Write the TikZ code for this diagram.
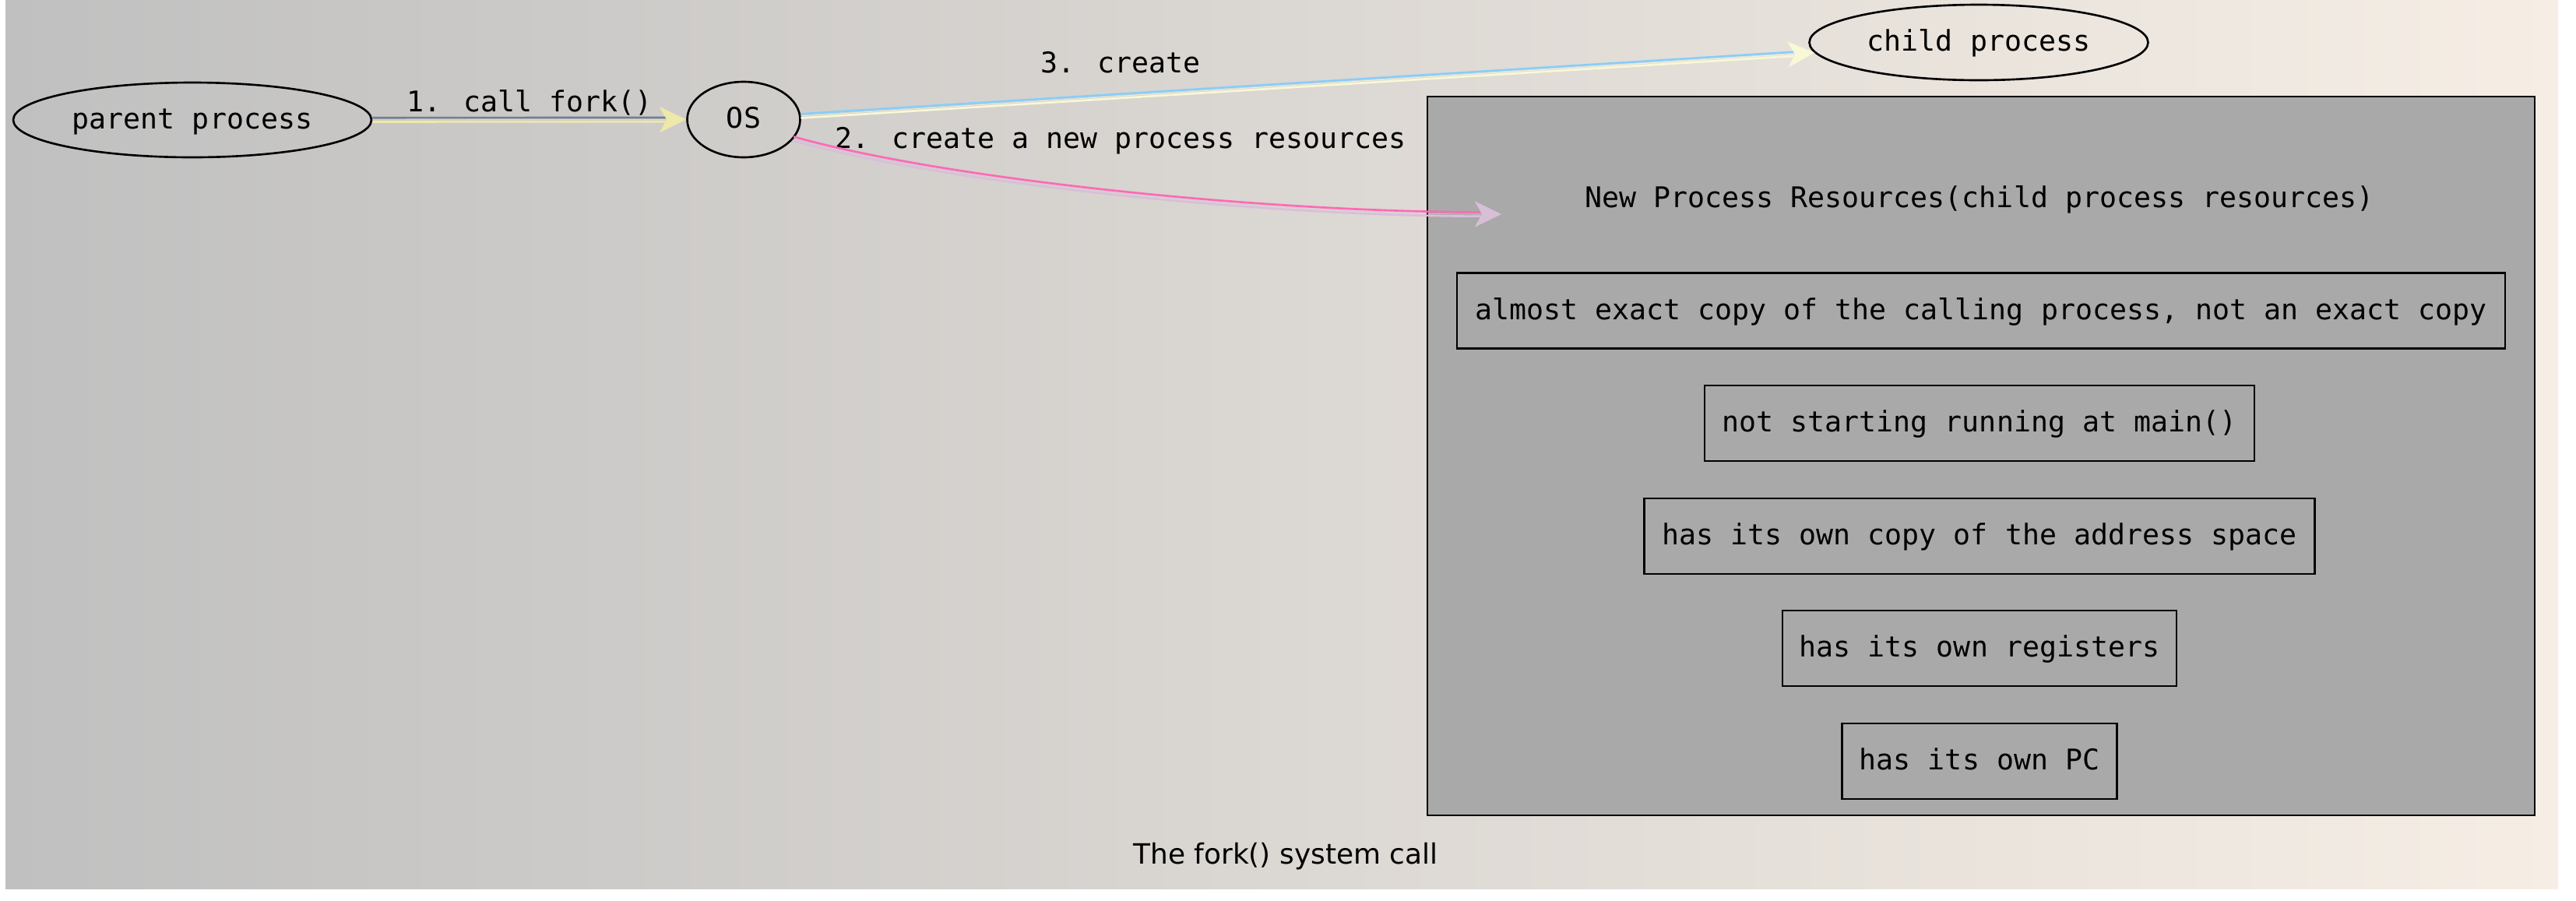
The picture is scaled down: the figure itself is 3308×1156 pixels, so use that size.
\documentclass[tikz,border=0pt]{standalone}
\usepackage{fontspec}
\newfontfamily\monof{DejaVu Sans Mono}
\newfontfamily\capf{DejaVu Sans}
\usetikzlibrary{shapes.geometric,arrows.meta}
\newcommand\pxu{0.3788pt}
\definecolor{bgleft}{RGB}{192,192,192}
\definecolor{bgright}{RGB}{246,238,229}
\definecolor{boxfill}{RGB}{169,169,169}
\definecolor{slategrayc}{RGB}{112,128,144}
\definecolor{palegold}{RGB}{238,232,170}
\definecolor{skyblue}{RGB}{135,206,250}
\definecolor{lightyel}{RGB}{248,248,215}
\definecolor{hotpinkc}{RGB}{255,105,180}
\definecolor{thistlec}{RGB}{216,191,216}
\begin{document}
\begin{tikzpicture}[x=\pxu,y=-\pxu,
  txt/.style={font=\monof\fontsize{13.85pt}{16pt}\selectfont, text height=10.4pt, text depth=2pt, inner sep=0pt},
  proc/.style={txt, ellipse, draw=black, line width=1pt},
  res/.style={txt, rectangle, draw=black, line width=1pt, fill=boxfill, minimum height=97*\pxu},
  elabel/.style={font=\monof\fontsize{13.85pt}{16pt}\selectfont, inner sep=0pt, anchor=base},
  lineA/.style={line width=1pt, shorten >=10pt, transform canvas={yshift=1pt}},
  lineB/.style={line width=1pt, shorten >=10pt, transform canvas={yshift=-1pt}},
  tipline/.style={line width=0.2pt, -{Stealth[length=12.9pt,width=12.5pt,inset=3.4pt]}}
]
\fill[white] (0,0) rectangle (3308,1156);
\shade[left color=bgleft, right color=bgright] (7,0) rectangle (3285,1141);
\useasboundingbox (0,0) rectangle (3308,1156);

% cluster
\node[draw=black, line width=1pt, fill=boxfill, minimum width=1422*\pxu, minimum height=923*\pxu, inner sep=0pt] (cluster) at (2544,585.5) {};
\node[txt, minimum width=1230*\pxu, minimum height=97*\pxu] (title) at (2542,255) {New Process Resources(child process resources)};
\node[res, minimum width=1346*\pxu] (r1) at (2544,399) {almost exact copy of the calling process, not an exact copy};
\node[res, minimum width=706*\pxu] (r2) at (2542,543.5) {not starting running at main()};
\node[res, minimum width=861*\pxu] (r3) at (2542,688.5) {has its own copy of the address space};
\node[res, minimum width=506*\pxu] (r4) at (2542,832.5) {has its own registers};
\node[res, minimum width=353*\pxu] (r5) at (2542,977.5) {has its own PC};

% processes
\node[proc, minimum width=460*\pxu, minimum height=96*\pxu] (parent) at (247,154) {parent process};
\node[proc, minimum width=145*\pxu, minimum height=97*\pxu] (os) at (955,153.5) {OS};
\node[proc, minimum width=435*\pxu, minimum height=97*\pxu] (child) at (2541,54.5) {child process};
\coordinate (t2) at (1928,275);

% labels
\node[elabel] (l1) at (680,143) {1. call fork()};
\node[elabel] (l3) at (1439,93) {3. create};
\node[elabel] (l2) at (1439,190.5) {2. create a new process resources};
\node[font=\capf\fontsize{13.6pt}{16pt}\selectfont, anchor=base, inner sep=0pt] (cap) at (1651,1109) {The fork() system call};

% edge 1
\draw[lineA, slategrayc] (parent) -- (os);
\draw[lineB, palegold] (parent) -- (os);
\draw[tipline, palegold] (parent) -- (os);
% edge 3
\draw[lineA, skyblue] (os) -- (child);
\draw[lineB, lightyel] (os) -- (child);
\draw[tipline, lightyel] (os) -- (child);
% edge 2
\draw[lineA, hotpinkc] (os.-21) .. controls (1218,234) and (1628,275) .. (t2);
\draw[lineB, thistlec] (os.-21) .. controls (1218,234) and (1628,275) .. (t2);
\draw[tipline, thistlec] (os.-21) .. controls (1218,234) and (1628,275) .. (t2);
\end{tikzpicture}
\end{document}
